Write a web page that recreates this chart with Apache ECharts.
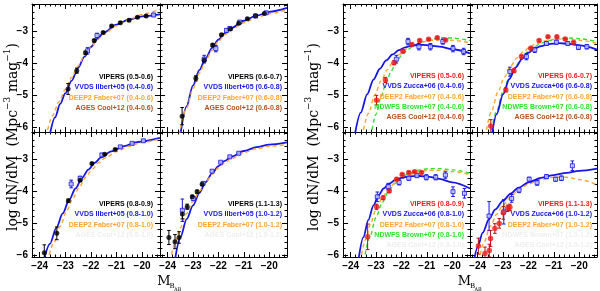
<!DOCTYPE html>
<html><head><meta charset="utf-8">
<script src="https://cdn.jsdelivr.net/npm/echarts@6/dist/echarts.min.js"></script>
<style>html,body{margin:0;padding:0;background:#fff}#c{width:600px;height:291px}</style>
</head><body><div id="c"></div>
<script>
// ---------- axis ticks ----------
const xMajor = [-24, -23, -22, -21, -20];
const yMajor = [-6, -5, -4, -3];

// ---------- left block: VIPERS black, VVDS Ilbert+05 blue ----------
const vipA = [[-22.89,-4.81,0.17],[-22.55,-4.24,0.08],[-22.21,-3.68,0.05],[-21.87,-3.30,0.04],[-21.52,-3.05,0.03],[-21.19,-2.84,0.03],[-20.85,-2.74,0.03],[-20.51,-2.66,0.03],[-20.18,-2.57,0.03],[-19.84,-2.53,0.03]];
const vvdsA = [[-22.13,-3.62,0.1],[-21.76,-3.14,0.07],[-19.55,-2.5,0.05]];
const blueA = [[-23.62,-6.3],[-23.4,-5.7],[-23.2,-5.28],[-23.0,-4.95],[-22.75,-4.55],[-22.5,-4.15],[-22.25,-3.8],[-22.0,-3.5],[-21.75,-3.25],[-21.5,-3.05],[-21.0,-2.8],[-20.5,-2.64],[-20.0,-2.54],[-19.3,-2.48]];
const orangeA = [[-23.75,-6.3],[-23.5,-5.65],[-23.25,-5.22],[-23.0,-4.83],[-22.75,-4.45],[-22.5,-4.09],[-22.25,-3.77],[-22.0,-3.5],[-21.75,-3.28],[-21.5,-3.1],[-21.0,-2.84],[-20.5,-2.64],[-20.0,-2.48],[-19.3,-2.32]];

const vipB = [[-23.43,-5.66,0.27],[-22.89,-4.48,0.08],[-22.56,-3.91,0.05],[-22.23,-3.44,0.04],[-21.88,-3.12,0.03],[-21.53,-2.94,0.03],[-21.2,-2.76,0.03],[-20.86,-2.62,0.03],[-20.54,-2.52,0.03],[-20.19,-2.45,0.03]];
const vvdsB = [[-22.56,-3.88,0.12],[-22.1,-3.55,0.1],[-21.68,-2.98,0.05],[-21.55,-2.92,0.04],[-21.16,-2.72,0.03],[-20.54,-2.53,0.03],[-20.12,-2.43,0.03]];
const blueB = [[-23.5,-6.25],[-23.25,-5.35],[-23.0,-4.7],[-22.75,-4.22],[-22.5,-3.85],[-22.25,-3.53],[-22.0,-3.27],[-21.75,-3.07],[-21.5,-2.91],[-21.0,-2.68],[-20.5,-2.52],[-20.0,-2.4],[-19.3,-2.28]];
const orangeB = [[-23.55,-6.25],[-23.25,-5.4],[-23.0,-4.8],[-22.75,-4.32],[-22.5,-3.93],[-22.25,-3.6],[-22.0,-3.33],[-21.75,-3.12],[-21.5,-2.96],[-21.0,-2.74],[-20.5,-2.58],[-20.0,-2.46],[-19.3,-2.34]];

const vipC = [[-23.82,-5.93,0.25],[-23.33,-5.32,0.2],[-22.88,-4.30,0.05],[-22.42,-3.66,0.04],[-21.96,-3.14,0.03],[-21.46,-2.85,0.03],[-21.05,-2.70,0.03]];
const vvdsC = [[-22.77,-3.78,0.12],[-22.42,-3.6,0.06],[-21.57,-2.87,0.04],[-20.85,-2.62,0.03],[-20.39,-2.51,0.03],[-19.95,-2.43,0.03]];
const blueC = [[-23.85,-6.2],[-23.6,-5.65],[-23.35,-5.15],[-23.1,-4.7],[-22.85,-4.28],[-22.6,-3.92],[-22.35,-3.6],[-22.1,-3.33],[-21.85,-3.12],[-21.6,-2.95],[-21.2,-2.76],[-20.7,-2.6],[-20.2,-2.47],[-19.3,-2.34]];
const orangeC = [[-23.7,-6.2],[-23.45,-5.62],[-23.2,-5.1],[-22.95,-4.63],[-22.7,-4.22],[-22.45,-3.87],[-22.2,-3.57],[-21.95,-3.32],[-21.7,-3.12],[-21.45,-2.97],[-21.0,-2.77],[-20.5,-2.6],[-20.0,-2.48],[-19.3,-2.37]];

const vipD = [[-23.95,-5.45,0.22],[-23.71,-5.58,0.22],[-23.55,-5.45,0.18],[-23.42,-4.72,0.15],[-23.23,-4.49,0.08],[-23.03,-4.18,0.05],[-22.84,-4.02,0.05],[-22.64,-3.79,0.04]];
const vvdsD = [[-23.42,-4.6,0.35],[-22.99,-4.23,0.06],[-22.6,-3.76,0.04],[-22.25,-3.38,0.03],[-21.91,-3.1,0.03],[-21.55,-2.93,0.03],[-21.2,-2.82,0.03]];
const blueD = [[-23.72,-6.2],[-23.5,-5.45],[-23.25,-4.88],[-23.0,-4.45],[-22.75,-4.06],[-22.5,-3.72],[-22.25,-3.45],[-22.0,-3.22],[-21.75,-3.06],[-21.5,-2.93],[-21.0,-2.75],[-20.5,-2.63],[-20.0,-2.55],[-19.3,-2.48]];
const orangeD = [[-23.9,-6.2],[-23.7,-5.6],[-23.5,-5.15],[-23.25,-4.7],[-23.0,-4.32],[-22.75,-4.0],[-22.5,-3.72],[-22.25,-3.48],[-22.0,-3.28],[-21.75,-3.12],[-21.5,-2.99],[-21.0,-2.8],[-20.5,-2.68],[-20.0,-2.6],[-19.3,-2.55]];

// ---------- right block: VIPERS red, VVDS Zucca+06 blue ----------
const redE = [[-22.98,-5.16,0.15],[-22.63,-4.53,0.08],[-22.29,-3.99,0.06],[-21.94,-3.63,0.04],[-21.59,-3.42,0.04],[-21.28,-3.30,0.03],[-20.93,-3.26,0.03],[-20.59,-3.21,0.03],[-20.26,-3.28,0.03]];
const vvdsE = [[-22.2,-3.88,0.12],[-21.74,-3.33,0.1],[-21.31,-3.49,0.1],[-20.86,-3.49,0.1],[-20.37,-3.33,0.08],[-19.97,-3.55,0.1],[-19.55,-3.64,0.1]];
const blueE = [[-23.85,-6.3],[-23.6,-5.55],[-23.35,-4.98],[-23.1,-4.52],[-22.85,-4.18],[-22.6,-3.92],[-22.35,-3.73],[-22.1,-3.6],[-21.85,-3.51],[-21.6,-3.46],[-21.3,-3.43],[-21.0,-3.44],[-20.5,-3.49],[-20.0,-3.57],[-19.3,-3.7]];
const orangeE = [[-23.55,-6.3],[-23.3,-5.58],[-23.05,-5.0],[-22.8,-4.55],[-22.55,-4.2],[-22.3,-3.93],[-22.05,-3.72],[-21.8,-3.56],[-21.55,-3.44],[-21.2,-3.34],[-20.8,-3.29],[-20.4,-3.27],[-20.0,-3.29],[-19.3,-3.37]];
const greenE = [[-23.2,-6.3],[-23.0,-5.6],[-22.8,-5.05],[-22.6,-4.6],[-22.4,-4.25],[-22.2,-3.98],[-22.0,-3.77],[-21.75,-3.58],[-21.5,-3.45],[-21.2,-3.34],[-20.8,-3.25],[-20.4,-3.21],[-20.0,-3.22],[-19.3,-3.3]];

const redF = [[-23.48,-5.97,0.2],[-22.89,-4.84,0.06],[-22.57,-4.24,0.05],[-22.27,-3.8,0.04],[-21.91,-3.54,0.03],[-21.58,-3.3,0.03],[-21.23,-3.18,0.03],[-20.88,-3.18,0.03],[-20.55,-3.25,0.03],[-20.22,-3.36,0.03]];
const vvdsF = [[-22.73,-4.27,0.14],[-22.08,-3.8,0.1],[-21.75,-3.59,0.08],[-21.29,-3.39,0.05],[-20.9,-3.35,0.06],[-20.45,-3.39,0.05],[-20.03,-3.51,0.07],[-19.7,-3.49,0.07]];
const blueF = [[-23.45,-6.3],[-23.25,-5.6],[-23.0,-4.98],[-22.75,-4.5],[-22.5,-4.14],[-22.25,-3.87],[-22.0,-3.68],[-21.75,-3.55],[-21.5,-3.47],[-21.2,-3.41],[-20.8,-3.38],[-20.4,-3.4],[-20.0,-3.45],[-19.3,-3.58]];
const orangeF = [[-23.7,-6.3],[-23.45,-5.5],[-23.2,-4.9],[-22.95,-4.45],[-22.7,-4.1],[-22.45,-3.84],[-22.2,-3.65],[-21.95,-3.5],[-21.7,-3.4],[-21.4,-3.31],[-21.0,-3.26],[-20.5,-3.25],[-20.0,-3.29],[-19.3,-3.38]];
const greenF = [[-23.5,-6.3],[-23.25,-5.5],[-23.0,-4.9],[-22.75,-4.45],[-22.5,-4.1],[-22.25,-3.83],[-22.0,-3.63],[-21.75,-3.48],[-21.5,-3.38],[-21.2,-3.3],[-20.8,-3.24],[-20.4,-3.22],[-20.0,-3.24],[-19.3,-3.33]];

const redG = [[-23.33,-5.43,0.4],[-22.98,-4.49,0.08],[-22.72,-4.21,0.05],[-22.48,-4.0,0.04],[-22.19,-3.63,0.04],[-21.97,-3.48,0.03],[-21.71,-3.42,0.03],[-21.48,-3.4,0.03],[-21.21,-3.42,0.03]];
const vvdsG = [[-22.95,-4.18,0.15],[-22.52,-3.86,0.1],[-22.09,-3.73,0.08],[-21.71,-3.6,0.06],[-21.39,-3.52,0.05],[-21.02,-3.57,0.08],[-20.65,-3.57,0.08],[-20.27,-3.5,0.1],[-19.97,-4.02,0.15],[-19.52,-4.07,0.15]];
const blueG = [[-23.7,-6.2],[-23.5,-5.45],[-23.3,-4.9],[-23.1,-4.45],[-22.9,-4.13],[-22.7,-3.92],[-22.5,-3.78],[-22.25,-3.66],[-22.0,-3.59],[-21.7,-3.54],[-21.3,-3.53],[-20.9,-3.56],[-20.5,-3.62],[-20.0,-3.73],[-19.3,-3.92]];
const orangeG = [[-23.62,-6.2],[-23.4,-5.5],[-23.2,-4.98],[-23.0,-4.58],[-22.75,-4.2],[-22.5,-3.93],[-22.25,-3.74],[-22.0,-3.6],[-21.7,-3.48],[-21.3,-3.39],[-20.9,-3.35],[-20.5,-3.35],[-20.0,-3.39],[-19.3,-3.48]];
const greenG = [[-23.48,-6.2],[-23.25,-5.45],[-23.0,-4.82],[-22.75,-4.35],[-22.5,-4.0],[-22.25,-3.76],[-22.0,-3.58],[-21.7,-3.44],[-21.3,-3.34],[-20.9,-3.3],[-20.5,-3.3],[-20.0,-3.34],[-19.3,-3.44]];

const redH = [[-23.97,-5.72,0.25],[-23.71,-5.95,0.2],[-23.54,-5.86,0.2],[-23.49,-5.48,0.25],[-23.32,-5.17,0.15],[-23.15,-5.01,0.15],[-22.99,-4.68,0.2],[-22.82,-4.54,0.1],[-22.73,-4.51,0.1]];
const vvdsH = [[-23.55,-4.78,0.45],[-22.97,-4.65,0.38],[-22.66,-4.23,0.12],[-22.37,-3.97,0.08],[-21.97,-3.63,0.06],[-21.66,-3.74,0.08],[-21.29,-3.55,0.06],[-20.93,-3.63,0.06],[-20.7,-3.6,0.07],[-20.27,-3.21,0.15]];
const blueH = [[-24.15,-6.2],[-24.0,-5.75],[-23.8,-5.3],[-23.55,-4.88],[-23.3,-4.57],[-23.0,-4.3],[-22.7,-4.08],[-22.4,-3.9],[-22.0,-3.73],[-21.5,-3.59],[-21.0,-3.5],[-20.5,-3.43],[-20.0,-3.37],[-19.3,-3.3]];
const orangeH = [[-23.95,-6.2],[-23.75,-5.6],[-23.5,-5.1],[-23.25,-4.72],[-23.0,-4.44],[-22.7,-4.18],[-22.4,-3.98],[-22.0,-3.78],[-21.5,-3.64],[-21.0,-3.57],[-20.5,-3.57],[-20.0,-3.64],[-19.3,-3.8]];

// ---------- legend texts ----------
const legA = [['VIPERS (0.5-0.6)','vip'],['VVDS Ilbert+05 (0.4-0.6)','blue'],['DEEP2 Faber+07 (0.4-0.6)','orange'],['AGES Cool+12 (0.4-0.6)','brown']];
const legB = [['VIPERS (0.6-0.7)','vip'],['VVDS Ilbert+05 (0.6-0.8)','blue'],['DEEP2 Faber+07 (0.6-0.8)','orange'],['AGES Cool+12 (0.6-0.8)','brown']];
const legC = [['VIPERS (0.8-0.9)','vip'],['VVDS Ilbert+05 (0.8-1.0)','blue'],['DEEP2 Faber+07 (0.8-1.0)','orange'],['AGES Cool+12 (0.8-1.0)','faint']];
const legD = [['VIPERS (1.1-1.3)','vip'],['VVDS Ilbert+05 (1.0-1.2)','blue'],['DEEP2 Faber+07 (1.0-1.2)','orange'],['AGES Cool+12 (1.0-1.2)','faint']];
const legE = [['VIPERS (0.5-0.6)','red'],['VVDS Zucca+06 (0.4-0.6)','blue'],['DEEP2 Faber+07 (0.4-0.6)','orange'],['NDWFS Brown+07 (0.4-0.6)','green'],['AGES Cool+12 (0.4-0.6)','brown']];
const legF = [['VIPERS (0.6-0.7)','red'],['VVDS Zucca+06 (0.6-0.8)','blue'],['DEEP2 Faber+07 (0.6-0.8)','orange'],['NDWFS Brown+07 (0.6-0.8)','green'],['AGES Cool+12 (0.6-0.8)','brown']];
const legG = [['VIPERS (0.8-0.9)','red'],['VVDS Zucca+06 (0.8-1.0)','blue'],['DEEP2 Faber+07 (0.8-1.0)','orange'],['NDWFS Brown+07 (0.8-1.0)','green'],['AGES Cool+12 (0.8-1.0)','faint']];
const legH = [['VIPERS (1.1-1.3)','red'],['VVDS Zucca+06 (1.0-1.2)','blue'],['DEEP2 Faber+07 (1.0-1.2)','orange'],['NDWFS Brown+07 (1.0-1.2)','faint'],['AGES Cool+12 (1.0-1.2)','faint']];

// ---------- styling / layout ----------
const COL = {vip:'#000000', red:'#ee1a1a', blue:'#1515e6', orange:'#ffa531', green:'#2fe02f', brown:'#b4501c', faint:'#eeeeee'};
const XMIN = -24.3, XMAX = -19.3, YMAX = -2.156;
const xMinor = [], yMinor = [];
for (let i = -242; i <= -194; i += 2) { if (i % 10 !== 0) xMinor.push(i / 10); }
for (let i = -60; i <= -22; i += 2) { if (i % 10 !== 0) yMinor.push(i / 10); }

const panels = [
  {r:[32,4,128,128],  ymin:-6.156, xlab:false, ylab:true,  lines:[[blueA,'blue',false],[orangeA,'orange',true]], vvds:vvdsA, main:vipA, mc:'vip', leg:legA, lx:153, ly:77},
  {r:[160,4,127,128], ymin:-6.156, xlab:false, ylab:false, lines:[[blueB,'blue',false],[orangeB,'orange',true]], vvds:vvdsB, main:vipB, mc:'vip', leg:legB, lx:282, ly:77},
  {r:[32,132,128,125],ymin:-6.06,  xlab:true,  ylab:true,  lines:[[blueC,'blue',false],[orangeC,'orange',true]], vvds:vvdsC, main:vipC, mc:'vip', leg:legC, lx:153, ly:204},
  {r:[160,132,127,125],ymin:-6.06, xlab:true,  ylab:false, lines:[[blueD,'blue',false],[orangeD,'orange',true]], vvds:vvdsD, main:vipD, mc:'vip', leg:legD, lx:282, ly:204},
  {r:[343,4,127,128], ymin:-6.156, xlab:false, ylab:true,  lines:[[greenE,'green',true],[orangeE,'orange',true],[blueE,'blue',false]], vvds:vvdsE, main:redE, mc:'red', leg:legE, lx:464, ly:76},
  {r:[470,4,127,128], ymin:-6.156, xlab:false, ylab:false, lines:[[greenF,'green',true],[orangeF,'orange',true],[blueF,'blue',false]], vvds:vvdsF, main:redF, mc:'red', leg:legF, lx:592, ly:76},
  {r:[343,132,127,125],ymin:-6.06, xlab:true,  ylab:true,  lines:[[greenG,'green',true],[orangeG,'orange',true],[blueG,'blue',false]], vvds:vvdsG, main:redG, mc:'red', leg:legG, lx:464, ly:204},
  {r:[470,132,127,125],ymin:-6.06, xlab:true,  ylab:false, lines:[[orangeH,'orange',true],[blueH,'blue',false]], vvds:vvdsH, main:redH, mc:'red', leg:legH, lx:592, ly:204}
];

const minus = v => String(v).replace('-', '\u2212');
const labelStyle = {fontSize:10, fontFamily:'Liberation Sans', fontWeight:'bold', color:'#000'};

function mkX(g, pos, vals, len, lab, line) {
  return {type:'value', gridIndex:g, position:pos, min:XMIN, max:XMAX, scale:true,
    axisLine:{show:line, onZero:false, lineStyle:{color:'#000', width:1}},
    axisTick:{show:true, inside:true, length:len, customValues:vals, lineStyle:{color:'#000', width:1}},
    axisLabel:Object.assign({show:lab, margin:4, formatter:minus}, lab ? {customValues:xMajor} : {}, labelStyle),
    splitLine:{show:false}};
}
function mkY(g, pos, vals, len, lab, line, ymin) {
  return {type:'value', gridIndex:g, position:pos, min:ymin, max:YMAX, scale:true,
    axisLine:{show:line, onZero:false, lineStyle:{color:'#000', width:1}},
    axisTick:{show:true, inside:true, length:len, customValues:vals, lineStyle:{color:'#000', width:1}},
    axisLabel:Object.assign({show:lab, margin:4, formatter:minus}, lab ? {customValues:yMajor} : {}, labelStyle),
    splitLine:{show:false}};
}
function errSeries(data, color, xi, yi) {
  return {type:'custom', xAxisIndex:xi, yAxisIndex:yi, clip:true, z:3, silent:true, data:data,
    renderItem:function(params, api) {
      const x = api.value(0), y = api.value(1), e = api.value(2);
      const a = api.coord([x, y - e]), b = api.coord([x, y + e]), w = 1.8;
      const st = {stroke:color, lineWidth:1};
      return {type:'group', children:[
        {type:'line', shape:{x1:a[0], y1:a[1], x2:b[0], y2:b[1]}, style:st},
        {type:'line', shape:{x1:a[0]-w, y1:a[1], x2:a[0]+w, y2:a[1]}, style:st},
        {type:'line', shape:{x1:b[0]-w, y1:b[1], x2:b[0]+w, y2:b[1]}, style:st}]};
    }};
}

const grids = [], xAxes = [], yAxes = [], series = [], graphics = [];
panels.forEach((p, g) => {
  grids.push({left:p.r[0], top:p.r[1], width:p.r[2], height:p.r[3], containLabel:false, outerBoundsMode:'none'});
  const xi = xAxes.length, yi = yAxes.length;
  xAxes.push(mkX(g,'bottom',xMajor,5,p.xlab,true), mkX(g,'bottom',xMinor,2.5,false,false),
             mkX(g,'top',xMajor,5,false,true), mkX(g,'top',xMinor,2.5,false,false));
  yAxes.push(mkY(g,'left',yMajor,5,p.ylab,true,p.ymin), mkY(g,'left',yMinor,2.5,false,false,p.ymin),
             mkY(g,'right',yMajor,5,false,true,p.ymin), mkY(g,'right',yMinor,2.5,false,false,p.ymin));
  p.lines.forEach(([d, c, dash]) => {
    series.push({type:'line', xAxisIndex:xi, yAxisIndex:yi, data:d, smooth:0.3, smoothMonotone:'x',
      symbol:'none', clip:true, z:2, silent:true,
      lineStyle:{color:COL[c], width:dash ? 1.4 : 1.8, type:dash ? [4,3] : 'solid'}});
  });
  series.push(errSeries(p.vvds, COL.blue, xi, yi));
  series.push({type:'scatter', xAxisIndex:xi, yAxisIndex:yi, data:p.vvds.map(d => [d[0], d[1]]),
    symbol:'rect', symbolSize:4, z:4, silent:true, clip:true,
    itemStyle:{color:'#c8c8ff', borderColor:COL.blue, borderWidth:1}});
  const isRed = p.mc === 'red';
  series.push(errSeries(p.main, isRed ? '#b01010' : '#000', xi, yi));
  series.push({type:'scatter', xAxisIndex:xi, yAxisIndex:yi, data:p.main.map(d => [d[0], d[1]]),
    symbol:'circle', symbolSize:isRed ? 5.5 : 5, z:5, silent:true, clip:true,
    itemStyle:{color:COL[p.mc]}});
  p.leg.forEach(([t, c], i) => {
    graphics.push({type:'text', x:p.lx, y:p.ly + i * 10.3, silent:true, z:10,
      style:{text:t, fill:COL[c], font:'bold 7px "Liberation Sans"', align:'right', verticalAlign:'middle',
             textAlign:'right', textVerticalAlign:'middle'}});
  });
});

// axis titles
const yTitleRich = {
  a:{fontSize:14, fontFamily:'DejaVu Serif', lineHeight:20, fill:'#000', color:'#000'},
  s:{fontSize:9, fontFamily:'DejaVu Serif', verticalAlign:'top', fill:'#000', color:'#000'}
};
[13, 314].forEach(x => {
  graphics.push({type:'text', x:x, y:137, rotation:Math.PI/2, silent:true,
    style:{text:'{a|log dN/dM  (Mpc}{s|\u22123}{a| mag}{s|\u22121}{a|)}', rich:yTitleRich,
           align:'center', verticalAlign:'middle', textAlign:'center', textVerticalAlign:'middle'}});
});
[164, 464.5].forEach(x => {
  graphics.push({type:'text', x:x, y:282, silent:true,
    style:{text:'M', font:'13px "DejaVu Serif"', fill:'#000', align:'center', verticalAlign:'middle', textAlign:'center', textVerticalAlign:'middle'}});
  graphics.push({type:'text', x:x + 5.5, y:286.5, silent:true,
    style:{text:'B', font:'7px "DejaVu Serif"', fill:'#000', align:'left', verticalAlign:'middle', textAlign:'left', textVerticalAlign:'middle'}});
  graphics.push({type:'text', x:x + 10, y:289.5, silent:true,
    style:{text:'AB', font:'5px "DejaVu Serif"', fill:'#000', align:'left', verticalAlign:'middle', textAlign:'left', textVerticalAlign:'middle'}});
});

const chart = echarts.init(document.getElementById('c'), null, {renderer:'canvas'});
chart.setOption({animation:false, backgroundColor:'#fff', grid:grids, xAxis:xAxes, yAxis:yAxes, series:series, graphic:graphics});
</script></body></html>
